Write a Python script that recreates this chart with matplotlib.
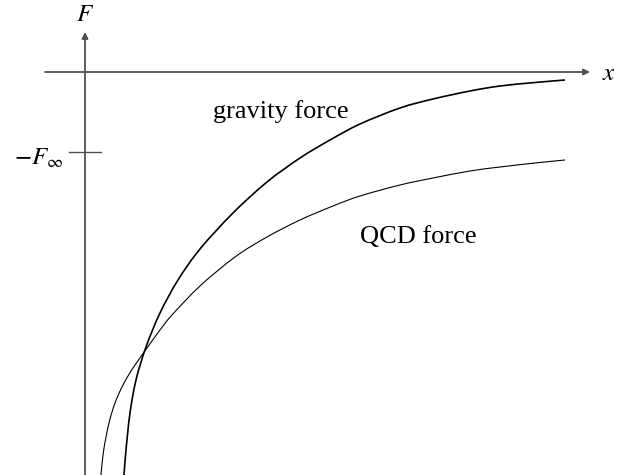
import matplotlib
matplotlib.use("Agg")
import matplotlib.pyplot as plt
import numpy as np
from matplotlib.path import Path
from matplotlib.patches import PathPatch

plt.rcParams['mathtext.fontset'] = 'stix'
plt.rcParams['font.family'] = ['Liberation Serif', 'DejaVu Serif']

# force curves, F against separation x (F_inf sits at 0.8 below zero)
grav_x = [0.39, 0.41, 0.45, 0.51, 0.61, 0.75, 0.93, 1.15, 1.48, 1.82, 2.15, 2.45,
          2.75, 3.15, 3.48, 3.85, 4.15, 4.50, 4.80]
grav_F = [-4.03, -3.78, -3.41, -3.08, -2.75, -2.41, -2.08, -1.77, -1.41, -1.10, -0.86, -0.68,
          -0.52, -0.36, -0.27, -0.19, -0.14, -0.105, -0.08]
qcd_x = [0.16, 0.18, 0.21, 0.25, 0.30, 0.36, 0.43, 0.50, 0.62, 0.75, 0.87, 1.15,
         1.50, 1.82, 2.15, 2.48, 2.75, 3.15, 3.48, 3.85, 4.15, 4.50, 4.80]
qcd_F = [-4.03, -3.83, -3.65, -3.47, -3.31, -3.17, -3.04, -2.93, -2.76, -2.58, -2.43, -2.14,
         -1.85, -1.65, -1.48, -1.34, -1.24, -1.13, -1.06, -0.99, -0.95, -0.91, -0.88]
F_inf = 0.8


def smooth_path(xs, ys):
    # Catmull-Rom through the points, drawn as cubic Bezier segments
    p = np.column_stack([xs, ys])
    pts = np.vstack([p[0], p, p[-1]])
    verts, codes = [p[0]], [Path.MOVETO]
    for i in range(1, len(pts) - 2):
        p0, p1, p2, p3 = pts[i - 1], pts[i], pts[i + 1], pts[i + 2]
        verts += [p1 + (p2 - p0) / 6, p2 - (p3 - p1) / 6, p2]
        codes += [Path.CURVE4] * 3
    return Path(verts, codes)


axcol = '#505050'
fig = plt.figure(figsize=(6.17, 4.75), dpi=100)
ax = fig.add_axes([0, 0, 1, 1])
ax.set_xlim(-0.85, 5.32)
ax.set_ylim(-4.03, 0.72)
ax.axis('off')

# axes with arrow heads
ax.annotate('', xy=(0, 0.40), xytext=(0, -4.05),
            arrowprops=dict(arrowstyle='-|>', color=axcol, lw=1.3, mutation_scale=9, shrinkA=0, shrinkB=0))
ax.annotate('', xy=(5.05, 0), xytext=(-0.40, 0),
            arrowprops=dict(arrowstyle='-|>', color=axcol, lw=1.3, mutation_scale=9, shrinkA=0, shrinkB=0))
ax.plot([-0.16, 0.16], [-F_inf, -F_inf], color=axcol, lw=1.0)

ax.add_patch(PathPatch(smooth_path(grav_x, grav_F), fill=False, edgecolor='black', lw=1.2))
ax.add_patch(PathPatch(smooth_path(qcd_x, qcd_F), fill=False, edgecolor='black', lw=0.8))

ax.text(0, 0.57, '$F$', ha='center', va='center', fontsize=18)
ax.text(5.24, -0.02, '$x$', ha='center', va='center', fontsize=18)
ax.text(-0.22, -F_inf - 0.06, r'$-F_\infty$', ha='right', va='center', fontsize=18)
ax.text(1.28, -0.40, 'gravity force', ha='left', va='center', fontsize=19)
ax.text(2.75, -1.65, 'QCD force', ha='left', va='center', fontsize=19)

fig.savefig('out.png', dpi=100)
